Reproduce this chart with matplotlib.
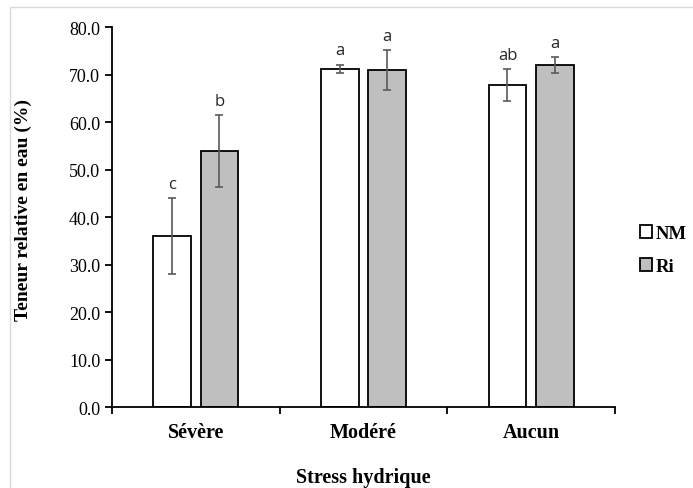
import matplotlib
matplotlib.use("Agg")
from matplotlib import pyplot as plt
from matplotlib.patches import Rectangle
import numpy as np

categories = ["Sévère", "Modéré", "Aucun"]
nm_values = [36.0, 71.2, 67.8]
nm_errors = [8.0, 0.9, 3.4]
ri_values = [53.9, 71.0, 72.0]
ri_errors = [7.5, 4.2, 1.7]
nm_letters = ["c", "a", "ab"]
ri_letters = ["b", "a", "a"]
y_ticks = [0, 10, 20, 30, 40, 50, 60, 70, 80]

serif = "Liberation Serif"

fig = plt.figure(figsize=(6.93, 4.89), dpi=100)
# light gray frame around the chart area (bottom edge falls outside the picture)
fig.patches.append(Rectangle((10 / 693, -0.02), 0.995, 1.004, transform=fig.transFigure,
                             fill=False, edgecolor="#d9d9d9", linewidth=1))
ax = fig.add_axes([0.1616, 0.1656, 0.7258, 0.7771])

x = np.arange(len(categories))
width = 0.226
offset = 0.141
err_kw = dict(ecolor="#595959", elinewidth=1.2, capsize=3, capthick=1.2)
ax.bar(x - offset, nm_values, width, color="white", edgecolor="black", linewidth=1.3,
       yerr=nm_errors, error_kw=err_kw, label="NM")
ax.bar(x + offset, ri_values, width, color="#bfbfbf", edgecolor="black", linewidth=1.3,
       yerr=ri_errors, error_kw=err_kw, label="Ri")

for i in range(len(categories)):
    ax.text(x[i] - offset, nm_values[i] + nm_errors[i] + 1.3, nm_letters[i], ha="center",
            va="bottom", fontsize=12, family="Open Sans", color="#262626")
    ax.text(x[i] + offset, ri_values[i] + ri_errors[i] + 1.3, ri_letters[i], ha="center",
            va="bottom", fontsize=12, family="Open Sans", color="#262626")

ax.set_xlim(-0.5, len(categories) - 0.5)
ax.set_ylim(0, 80)
ax.set_yticks(y_ticks)
ax.set_yticklabels([f"{v:.1f}" for v in y_ticks], family=serif, fontsize=13)
ax.set_xticks(x)
ax.set_xticklabels(categories, family=serif, fontsize=14.5, fontweight="bold")
ax.tick_params(axis="x", length=0, pad=11)
ax.set_xticks(np.arange(len(categories) + 1) - 0.5, minor=True)
ax.tick_params(axis="x", which="minor", length=5, width=1.3)
ax.tick_params(axis="y", length=5, width=1.3)

for side in ["top", "right"]:
    ax.spines[side].set_visible(False)
for side in ["left", "bottom"]:
    ax.spines[side].set_linewidth(1.3)

ax.set_ylabel("Teneur relative en eau (%)", family=serif, fontsize=14, fontweight="bold")
ax.yaxis.set_label_coords(-0.159, 0.521)
ax.set_xlabel("Stress hydrique", family=serif, fontsize=14.5, fontweight="bold")
ax.xaxis.set_label_coords(0.5, -0.158)

ax.legend(loc="center left", bbox_to_anchor=(1.035, 0.413), borderaxespad=0, frameon=False,
          prop={"family": serif, "size": 13.5, "weight": "bold"},
          handlelength=0.65, handleheight=0.65, handletextpad=0.2, labelspacing=0.85)

fig.savefig("out.png", dpi=100)
